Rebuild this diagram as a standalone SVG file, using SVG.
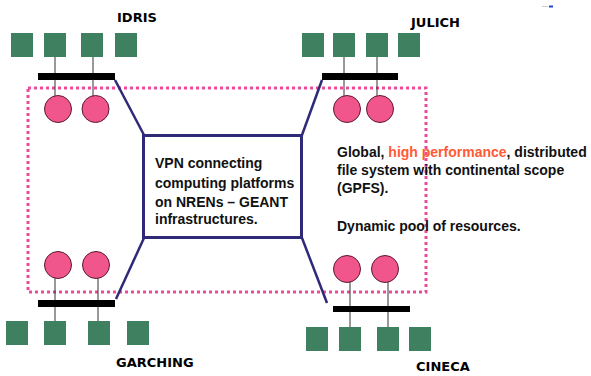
<svg xmlns="http://www.w3.org/2000/svg" width="591" height="376" viewBox="0 0 591 376">
<style>
.sq{fill:#3e8060}
.bar{fill:#000}
.ln{stroke:#333;stroke-width:1}
.ci{fill:#f0558c;stroke:#5a1a30;stroke-width:1}
.lbl{font-family:"DejaVu Sans","Liberation Sans",sans-serif;font-weight:bold;font-size:13px;fill:#000}
.txt{font-family:"Liberation Sans",Arial,sans-serif;font-weight:bold;font-size:14px;fill:#111}
.rt{font-family:"Liberation Sans",Arial,sans-serif;font-weight:bold;font-size:14px;fill:#111}
.conn{stroke:#2e2a78;stroke-width:2.5;fill:none}
</style>
<rect width="591" height="376" fill="#fff"/>
<g id="connectors">
<rect x="28" y="88" width="398" height="204" fill="none" stroke="#ee4a9a" stroke-width="3" stroke-dasharray="3 3"/>
<line class="conn" x1="115" y1="80" x2="144" y2="135"/>
<line class="conn" x1="322" y1="80" x2="302" y2="135"/>
<line class="conn" x1="116" y1="299" x2="144" y2="238"/>
<line class="conn" x1="327" y1="303" x2="302" y2="238"/>
</g>
<g id="idris">
<rect class="sq" x="11" y="33" width="22" height="24"/>
<rect class="sq" x="44" y="33" width="22" height="24"/>
<rect class="sq" x="81" y="33" width="22" height="24"/>
<rect class="sq" x="115" y="33" width="22" height="24"/>
<line class="ln" x1="55" y1="57" x2="55" y2="96"/>
<line class="ln" x1="93" y1="57" x2="93" y2="96"/>
<rect class="bar" x="38" y="73" width="77" height="7"/>
<circle class="ci" cx="58" cy="109" r="13.5"/>
<circle class="ci" cx="95.5" cy="109" r="13.5"/>
<text class="lbl" x="117" y="22">IDRIS</text>
</g>
<g id="julich">
<rect class="sq" x="302" y="33" width="22" height="24"/>
<rect class="sq" x="333" y="33" width="22" height="24"/>
<rect class="sq" x="366" y="33" width="22" height="24"/>
<rect class="sq" x="398" y="33" width="22" height="24"/>
<line class="ln" x1="344" y1="57" x2="344" y2="96"/>
<line class="ln" x1="377" y1="57" x2="377" y2="96"/>
<rect class="bar" x="322" y="73" width="76" height="7"/>
<circle class="ci" cx="347" cy="109" r="13.5"/>
<circle class="ci" cx="380" cy="109" r="13.5"/>
<text class="lbl" x="411" y="27">JULICH</text>
</g>
<g id="garching">
<circle class="ci" cx="58" cy="265" r="13.5"/>
<circle class="ci" cx="96" cy="265" r="13.5"/>
<line class="ln" x1="55" y1="278" x2="55" y2="321"/>
<line class="ln" x1="98" y1="278" x2="98" y2="321"/>
<rect class="bar" x="38" y="300" width="77" height="7"/>
<rect class="sq" x="6" y="321" width="22" height="24"/>
<rect class="sq" x="44" y="321" width="22" height="24"/>
<rect class="sq" x="88" y="321" width="22" height="24"/>
<rect class="sq" x="127" y="321" width="22" height="24"/>
<text class="lbl" x="116" y="367">GARCHING</text>
</g>
<g id="cineca">
<circle class="ci" cx="347" cy="269" r="13.5"/>
<circle class="ci" cx="385" cy="269" r="13.5"/>
<line class="ln" x1="350" y1="282" x2="350" y2="327"/>
<line class="ln" x1="388" y1="282" x2="388" y2="327"/>
<rect class="bar" x="333" y="306" width="77" height="6"/>
<rect class="sq" x="306" y="327" width="22" height="24"/>
<rect class="sq" x="339" y="327" width="22" height="24"/>
<rect class="sq" x="377" y="327" width="22" height="24"/>
<rect class="sq" x="409" y="327" width="22" height="24"/>
<text class="lbl" x="416" y="371">CINECA</text>
</g>
<g id="vpn">
<rect x="143.5" y="135.5" width="158" height="102" fill="#fff" stroke="#2e2a78" stroke-width="3"/>
<text class="txt" x="155" y="168">VPN connecting</text>
<text class="txt" x="155" y="188">computing platforms</text>
<text class="txt" x="155" y="207">on NRENs – GEANT</text>
<text class="txt" x="155" y="224">infrastructures.</text>
</g>
<g id="desc">
<text class="rt" x="337" y="157">Global, <tspan fill="#ff5a36">high performance</tspan>, distributed</text>
<text class="rt" x="337" y="175">file system with continental scope</text>
<text class="rt" x="337" y="193">(GPFS).</text>
<text class="rt" x="337" y="231">Dynamic pool of resources.</text>
</g>
<line x1="542" y1="6.5" x2="548" y2="6.5" stroke="#ccd" stroke-width="1"/>
<line x1="549" y1="6.5" x2="553" y2="6.5" stroke="#2244cc" stroke-width="2"/>
</svg>
